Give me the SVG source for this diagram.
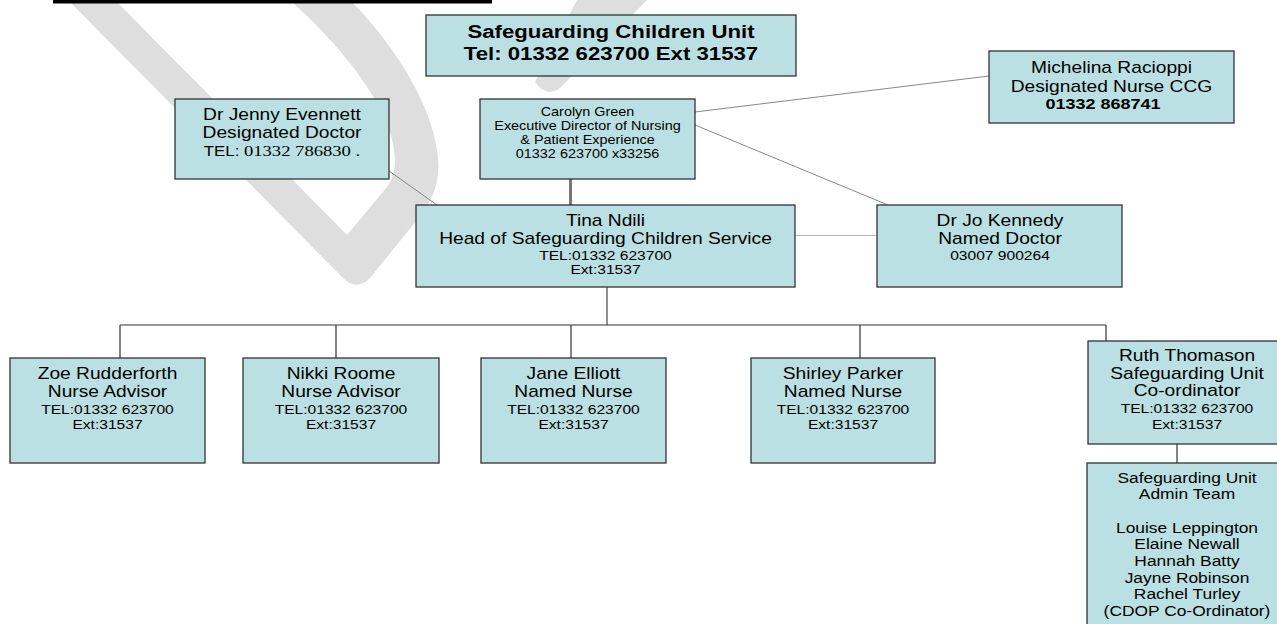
<svg xmlns="http://www.w3.org/2000/svg" width="1277" height="624" viewBox="0 0 1277 624">
<style>
.box{fill:#bbe0e3;stroke:#333;stroke-width:1.3}
.t{font-family:"Liberation Sans",Arial,sans-serif;text-anchor:middle;fill:#000}
.b{font-weight:bold}
.f16{font-size:16px}
.f13{font-size:13px}
.f12{font-size:12px}
.f145{font-size:14.5px}
.ser{font-family:"Liberation Serif","Times New Roman",serif}
.wm{fill:#dedede}
.c1{stroke:#888;stroke-width:1;fill:none}
.c2{stroke:#333;stroke-width:1.2;fill:none}
</style>
<rect width="1277" height="624" fill="#fff"/>
<g id="watermark">
<path class="wm" d="M68 0 L342 277 Q356 292 370 278 L417 220 C440 192 440 170 437 150 C432 110 400 50 350 0 L290 0 C340 45 395 110 395 160 C395 172 392 180 387 187 L347 235 L118 3 L118 0 Z"/>
<path class="wm" d="M577 0 L647 0 L560 88 Q546 98 535 82 Z"/>
</g>
<rect x="53" y="0" width="439" height="3.5" fill="#000"/>
<g id="connectors">
<line x1="570.5" y1="179" x2="570.5" y2="205" stroke="#777" stroke-width="3"/>
<line class="c1" x1="389" y1="171" x2="437" y2="205"/>
<line class="c1" x1="695" y1="112" x2="989" y2="76"/>
<line class="c1" x1="695" y1="125" x2="888" y2="205"/>
<line x1="795" y1="235.5" x2="877" y2="235.5" stroke="#bbb" stroke-width="1"/>
<line x1="607" y1="287" x2="607" y2="325" stroke="#555" stroke-width="1.3"/>
<path class="c2" d="M120 325 H1106 M120 325 V358 M336 325 V358 M571 325 V358 M860 325 V358 M1106 325 V341 M1177 444 V463"/>
</g>
<g id="unit">
<rect class="box" x="426" y="15" width="370" height="61"/>
<text class="t b" style="font-size:18.5px" transform="translate(611 0) scale(1.2 1)"><tspan x="0" y="38">Safeguarding Children Unit</tspan><tspan x="0" y="60">Tel: 01332 623700 Ext 31537</tspan></text>
</g>
<g id="carolyn">
<rect class="box" x="480" y="99" width="215" height="80"/>
<text class="t f12" transform="translate(587.5 0) scale(1.2 1)"><tspan x="0" y="116">Carolyn Green</tspan><tspan x="0" y="130.5">Executive Director of Nursing</tspan><tspan x="0" y="144.5">&amp; Patient Experience</tspan><tspan x="0" y="158.5">01332 623700 x33256</tspan></text>
</g>
<g id="jenny">
<rect class="box" x="175" y="99" width="214" height="80"/>
<text class="t f16" transform="translate(282 0) scale(1.2 1)"><tspan x="0" y="120">Dr Jenny Evennett</tspan><tspan x="0" y="138">Designated Doctor</tspan><tspan x="0" y="156"><tspan style="font-size:14px">TEL: </tspan><tspan class="ser" style="font-size:15.5px">01332 786830 .</tspan></tspan></text>
</g>
<g id="michelina">
<rect class="box" x="989" y="51" width="245" height="72"/>
<text class="t f16" transform="translate(1111.5 0) scale(1.2 1)"><tspan x="0" y="73">Michelina Racioppi</tspan><tspan x="0" y="92">Designated Nurse CCG</tspan></text>
<text class="t b" style="font-size:15px" transform="translate(1103 0) scale(1.2 1)" x="0" y="109">01332 868741</text>
</g>
<g id="tina">
<rect class="box" x="416" y="205" width="379" height="82"/>
<text class="t f16" transform="translate(605.5 0) scale(1.2 1)"><tspan x="0" y="226.5">Tina Ndili</tspan><tspan x="0" y="244.5">Head of Safeguarding Children Service</tspan></text>
<text class="t f13" transform="translate(605.5 0) scale(1.2 1)"><tspan x="0" y="260">TEL:01332 623700</tspan><tspan x="0" y="274.5">Ext:31537</tspan></text>
</g>
<g id="jo">
<rect class="box" x="877" y="205" width="245" height="82"/>
<text class="t f16" transform="translate(1000 0) scale(1.2 1)"><tspan x="0" y="226.5">Dr Jo Kennedy</tspan><tspan x="0" y="244.5">Named Doctor</tspan></text>
<text class="t f13" transform="translate(1000 0) scale(1.2 1)" x="0" y="260">03007 900264</text>
</g>
<g id="zoe">
<rect class="box" x="10" y="358" width="195" height="105"/>
<text class="t f16" transform="translate(107.5 0) scale(1.2 1)"><tspan x="0" y="379.3">Zoe Rudderforth</tspan><tspan x="0" y="397.3">Nurse Advisor</tspan></text>
<text class="t f13" transform="translate(107.5 0) scale(1.2 1)"><tspan x="0" y="414">TEL:01332 623700</tspan><tspan x="0" y="429.3">Ext:31537</tspan></text>
</g>
<g id="nikki">
<rect class="box" x="243" y="358" width="196" height="105"/>
<text class="t f16" transform="translate(341 0) scale(1.2 1)"><tspan x="0" y="379.3">Nikki Roome</tspan><tspan x="0" y="397.3">Nurse Advisor</tspan></text>
<text class="t f13" transform="translate(341 0) scale(1.2 1)"><tspan x="0" y="414">TEL:01332 623700</tspan><tspan x="0" y="429.3">Ext:31537</tspan></text>
</g>
<g id="jane">
<rect class="box" x="481" y="358" width="185" height="105"/>
<text class="t f16" transform="translate(573.5 0) scale(1.2 1)"><tspan x="0" y="379.3">Jane Elliott</tspan><tspan x="0" y="397.3">Named Nurse</tspan></text>
<text class="t f13" transform="translate(573.5 0) scale(1.2 1)"><tspan x="0" y="414">TEL:01332 623700</tspan><tspan x="0" y="429.3">Ext:31537</tspan></text>
</g>
<g id="shirley">
<rect class="box" x="751" y="358" width="184" height="105"/>
<text class="t f16" transform="translate(843 0) scale(1.2 1)"><tspan x="0" y="379.3">Shirley Parker</tspan><tspan x="0" y="397.3">Named Nurse</tspan></text>
<text class="t f13" transform="translate(843 0) scale(1.2 1)"><tspan x="0" y="414">TEL:01332 623700</tspan><tspan x="0" y="429.3">Ext:31537</tspan></text>
</g>
<g id="ruth">
<rect class="box" x="1088" y="341" width="200" height="103"/>
<text class="t f16" transform="translate(1187 0) scale(1.2 1)"><tspan x="0" y="361">Ruth Thomason</tspan><tspan x="0" y="379">Safeguarding Unit</tspan><tspan x="0" y="396">Co-ordinator</tspan></text>
<text class="t f13" transform="translate(1187 0) scale(1.2 1)"><tspan x="0" y="413.3">TEL:01332 623700</tspan><tspan x="0" y="428.7">Ext:31537</tspan></text>
</g>
<g id="admin">
<rect class="box" x="1087" y="463" width="201" height="175"/>
<text class="t f145" transform="translate(1187 0) scale(1.2 1)"><tspan x="0" y="482.7">Safeguarding Unit</tspan><tspan x="0" y="499.3">Admin Team</tspan><tspan x="0" y="532.7">Louise Leppington</tspan><tspan x="0" y="549.3">Elaine Newall</tspan><tspan x="0" y="566">Hannah Batty</tspan><tspan x="0" y="582.7">Jayne Robinson</tspan><tspan x="0" y="599.3">Rachel Turley</tspan><tspan x="0" y="616">(CDOP Co-Ordinator)</tspan></text>
</g>
</svg>
